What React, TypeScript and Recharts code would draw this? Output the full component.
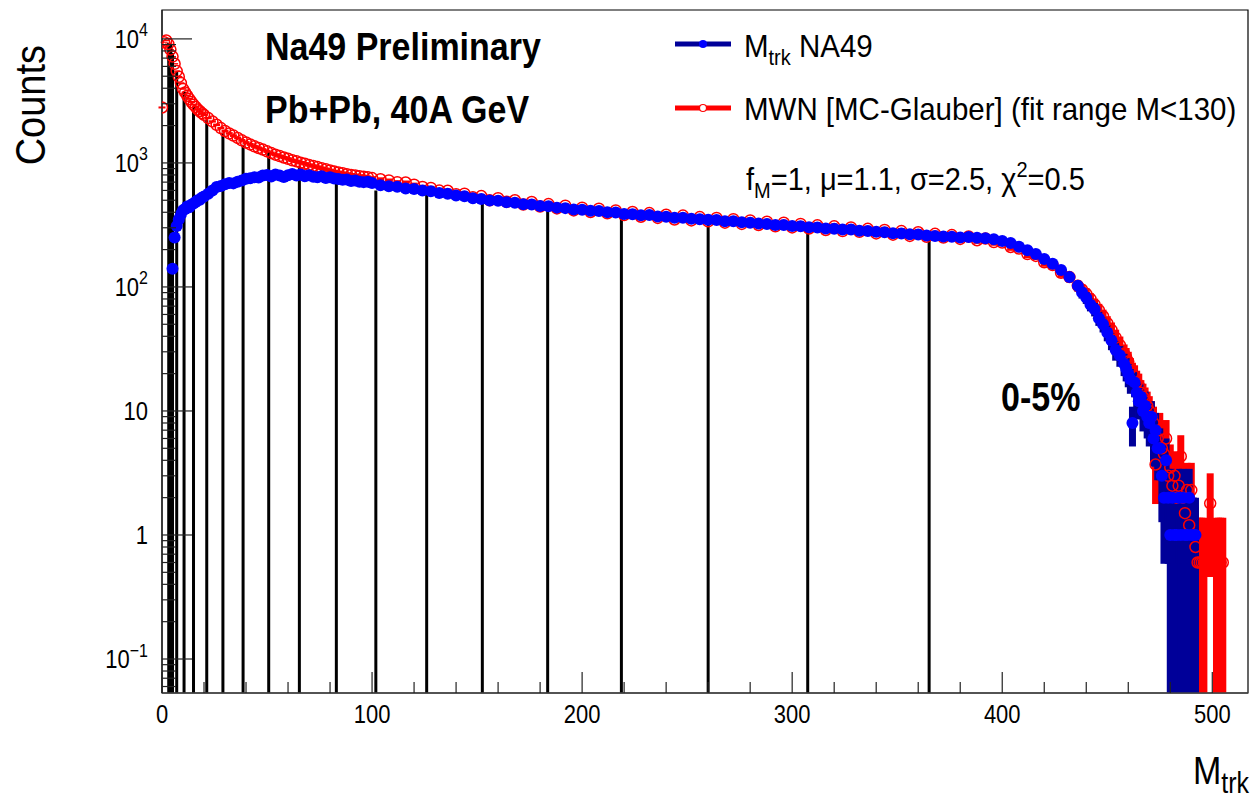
import React from 'react';
import { ComposedChart, Scatter, ErrorBar, XAxis, YAxis, ReferenceLine, ReferenceArea } from 'recharts';

const FONT = '"Liberation Sans", Arial, Helvetica, sans-serif';

// multiplicity bins (denser in the steep parts)
const mtrk = [
  0, 1, 2, 3, 4, 5, 6, 7, 8, 9, 10, 11, 12, 13, 14, 15, 16, 17, 18, 19, 20,
  22, 24, 26, 28, 30, 32, 34, 36, 38, 40, 42, 44, 46, 48, 50, 52, 54, 56, 58, 60,
  62, 64, 66, 68, 70, 72, 74, 76, 78, 80, 82, 84, 86, 88, 90, 92, 94, 96, 98, 100,
  104, 108, 112, 116, 120, 124, 128, 132, 136, 140, 144, 148, 152, 156, 160, 164, 168, 172, 176, 180,
  184, 188, 192, 196, 200, 204, 208, 212, 216, 220, 224, 228, 232, 236, 240, 244, 248, 252, 256, 260,
  264, 268, 272, 276, 280, 284, 288, 292, 296, 300, 304, 308, 312, 316, 320, 324, 328, 332, 336, 340,
  344, 348, 352, 356, 360, 364, 368, 372, 376, 380, 384, 388, 392, 396, 400, 404, 408, 412, 416, 420,
  424, 428, 432, 436,
  438, 440, 442, 444, 446, 448, 450, 452, 454, 456, 458,
  459, 460, 461, 462, 463, 464, 465, 466, 467, 468, 469, 470, 471, 472, 473, 474, 475, 476, 477, 478,
  479, 480, 481, 482, 483, 484, 485, 486, 487, 488, 489, 490, 491, 492, 493, 494, 495, 496, 497, 498,
  499, 500, 501, 502, 503, 504, 505,
];

// M_trk NA49 (data)
const na49Counts = [
  null, null, null, null, null, 140, 250, 310, 350, 385, 415, 425, 445, 440, 460, 470, 485, 500, 505, 525, 535,
  565, 600, 640, 650, 672, 690, 684, 705, 722, 745, 752, 768, 762, 790, 800, 776, 805, 792, 770, 795,
  815, 790, 805, 780, 795, 772, 768, 780, 755, 768, 748, 742, 730, 735, 715, 720, 705, 700, 705, 688,
  660, 648, 642, 622, 615, 598, 590, 572, 565, 545, 538, 520, 512, 498, 495, 482, 478, 465, 462, 450,
  447, 436, 432, 422, 420, 412, 410, 400, 398, 388, 386, 378, 380, 370, 368, 362, 362, 354, 352, 348,
  346, 338, 338, 332, 330, 324, 322, 316, 316, 310, 308, 303, 302, 296, 295, 290, 290, 284, 283, 278,
  276, 271, 270, 266, 265, 260, 258, 255, 254, 250, 253, 249, 247, 242, 235, 226, 211, 198, 184, 168,
  154, 137, 120, 102,
  90, 82, 72, 66, 56, 50, 43, 37, 31, 28, 24,
  22, 20, 18, 8, 17, 14, 12, 13, 10, 11, 9, 8, 9, 6, 7, 5, 5, 3, 2, 4,
  2, 1, 2, 1, 1, 2, 1, 2, 1, 1, 2, 1, 1, 1, null, null, null, null, null, null,
  null, null, null, null, null, null, null,
];

// MWN [MC-Glauber] fit
const mwnFit = [
  2800, 9400, 9700, 9100, 8200, 7200, 6300, 5500, 4950, 4400, 3950, 3700, 3480, 3280, 3100, 2950, 2830, 2700, 2610, 2520, 2440,
  2300, 2160, 2030, 1910, 1810, 1730, 1660, 1590, 1520, 1460, 1410, 1360, 1320, 1280, 1240, 1200, 1165, 1135, 1105, 1080,
  1050, 1030, 1005, 985, 962, 945, 925, 905, 888, 870, 852, 838, 825, 812, 800, 792, 782, 775, 765, 755,
  738, 722, 700, 695, 668, 640, 628, 598, 596, 560, 565, 528, 540, 500, 520, 486, 500, 462, 484, 445,
  466, 430, 452, 414, 436, 402, 428, 392, 414, 380, 402, 368, 394, 360, 382, 350, 376, 344, 366, 338,
  360, 330, 352, 322, 344, 316, 336, 308, 330, 302, 322, 296, 314, 288, 308, 282, 302, 278, 294, 270,
  288, 264, 282, 258, 276, 254, 268, 250, 262, 244, 255, 238, 246, 230, 228, 210, 204, 184, 178, 158,
  150, 130, 120, 102,
  95, 88, 80, 72, 65, 58, 51, 45, 39, 34, 29,
  27, 25, 22, 20, 19, 17, 16, 14, 13, 12, 11, 10, 9, 8, 3.7, 6, 7, 5, 4.5, 6,
  3, 3.5, 2.5, 3, 2, 2.5, 4.3, 2, 1.5, 2.3, 1.2, 2.3, 1, 0.8, 0.6, 0.6, 0.6, 0.6, null, null,
  1.8, null, null, 0.6, 0.6, 0.6, 0.6,
];

// centrality class boundaries (black lines)
const boundaryM = [3.2, 4.2, 5, 7, 10.5, 15, 21.3, 29, 38.6, 50.8, 65.4, 83, 101.8, 126, 152.5, 183.6, 218.7, 260, 307.4, 365.2];
const boundaryTop = [9300, 9000, 7700, 5420, 3740, 2830, 2220, 1750, 1400, 1205, 946, 815, 600, 605, 513, 450, 403, 367, 300, 252];

const xTicks = [0, 20, 40, 60, 80, 100, 120, 140, 160, 180, 200, 220, 240, 260, 280, 300, 320, 340, 360, 380, 400, 420, 440, 460, 480, 500];
const yTicks = [
  0.06, 0.07, 0.08, 0.09, 0.1, 0.2, 0.3, 0.4, 0.5, 0.6, 0.7, 0.8, 0.9,
  1, 2, 3, 4, 5, 6, 7, 8, 9, 10, 20, 30, 40, 50, 60, 70, 80, 90,
  100, 200, 300, 400, 500, 600, 700, 800, 900, 1000, 2000, 3000, 4000, 5000, 6000, 7000, 8000, 9000, 10000,
];

const X_MAX = 517;
const Y_MIN = 0.0532;
const Y_MAX = 17100;

function toPoints(values: (number | null)[]) {
  const pts: { m: number; v: number; err: [number, number] }[] = [];
  values.forEach((v, i) => {
    if (v == null) return;
    const e = Math.sqrt(v);
    const lo = Math.max(v - e, Y_MIN);
    pts.push({ m: mtrk[i], v, err: [v - lo, e] });
  });
  return pts;
}

const bluePts = toPoints(na49Counts);
const redPts = toPoints(mwnFit);

const BlueDot = (p: any) => <circle cx={p.cx} cy={p.cy} r={6} fill="#0000ff" />;
const RedRing = (p: any) => (
  <circle cx={p.cx} cy={p.cy} r={5.5} fill="none" stroke="#ff0000" strokeWidth={1.5} />
);

// ROOT text looks a bit taller than Helvetica, so stretch vertically
const Txt = ({ x, y, sy = 1.15, children, ...rest }: any) => (
  <g transform={`translate(${x},${y}) scale(1,${sy})`}>
    <text x={0} y={0} fill="#000" fontFamily={FONT} style={{ whiteSpace: 'pre' }} {...rest}>
      {children}
    </text>
  </g>
);

const XTick = (props: any) => {
  const { x, y, payload } = props;
  const major = payload.value % 100 === 0;
  return (
    <g>
      <line x1={x} x2={x} y1={y} y2={y - (major ? 21 : 11)} stroke="#222" strokeWidth={1.2} />
      {major && (
        <Txt x={x} y={y + 30} textAnchor="middle" fontSize={22}>
          {payload.value}
        </Txt>
      )}
    </g>
  );
};

const YTick = (props: any) => {
  const { x, y, payload } = props;
  const lg = Math.log10(payload.value);
  const exp = Math.round(lg);
  const major = Math.abs(lg - exp) < 1e-6;
  let label: React.ReactNode = null;
  if (major) {
    if (exp === 0 || exp === 1) {
      label = exp === 0 ? '1' : '10';
    } else {
      label = (
        <>
          10
          <tspan dy={-10} fontSize={16}>
            {exp < 0 ? '\u2212' + Math.abs(exp) : exp}
          </tspan>
        </>
      );
    }
  }
  return (
    <g>
      <line x1={x} x2={x + (major ? 30 : 14)} y1={y} y2={y} stroke="#222" strokeWidth={1.2} />
      {major && (
        <Txt x={x - 14} y={y + 9} textAnchor="end" fontSize={22}>
          {label}
        </Txt>
      )}
    </g>
  );
};

export default function App() {
  return (
    <div style={{ position: 'absolute', left: 0, top: 0, width: 1257, height: 804, background: '#fff' }}>
      <ComposedChart width={1257} height={804} margin={{ top: 10, right: 9, bottom: 0, left: 0 }}>
        <XAxis
          type="number"
          dataKey="m"
          domain={[0, X_MAX]}
          allowDataOverflow
          ticks={xTicks}
          interval={0}
          height={111}
          tickSize={0}
          tickMargin={0}
          tickLine={false}
          axisLine={{ stroke: '#444', strokeWidth: 1.5 }}
          tick={<XTick />}
        />
        <YAxis
          type="number"
          dataKey="v"
          scale="log"
          domain={[Y_MIN, Y_MAX]}
          allowDataOverflow
          ticks={yTicks}
          interval={0}
          width={162}
          tickSize={0}
          tickMargin={0}
          tickLine={false}
          axisLine={{ stroke: '#222', strokeWidth: 1.2 }}
          tick={<YTick />}
        />
        <ReferenceArea x1={0} x2={X_MAX} y1={Y_MIN} y2={Y_MAX} fill="none" stroke="#000" strokeWidth={1.2} />
        <Scatter data={redPts} dataKey="v" shape={RedRing} isAnimationActive={false}>
          <ErrorBar dataKey="err" direction="y" width={0} stroke="#ff0000" strokeWidth={7} />
        </Scatter>
        <Scatter data={bluePts} dataKey="v" shape={BlueDot} isAnimationActive={false}>
          <ErrorBar dataKey="err" direction="y" width={0} stroke="#000099" strokeWidth={7} />
        </Scatter>
        {boundaryM.map((m, i) => (
          <ReferenceLine
            key={'b' + i}
            segment={[{ x: m, y: Y_MIN }, { x: m, y: boundaryTop[i] }]}
            stroke="#000"
            strokeWidth={3}
            ifOverflow="visible"
          />
        ))}
      </ComposedChart>

      <svg
        width={1257}
        height={804}
        style={{ position: 'absolute', left: 0, top: 0, pointerEvents: 'none' }}
        fontFamily={FONT}
      >
        <g transform="translate(45,45) rotate(-90) scale(1,1.12)">
          <text x={0} y={0} textAnchor="end" fontSize={38} fill="#000" fontFamily={FONT}>
            Counts
          </text>
        </g>
        <Txt x={1249} y={784} textAnchor="end" fontSize={34}>
          M
          <tspan fontSize={25} dy={8}>
            trk
          </tspan>
        </Txt>

        <Txt x={265} y={60} fontSize={34} fontWeight="bold">
          Na49 Preliminary
        </Txt>
        <Txt x={265} y={123} fontSize={34} fontWeight="bold">
          Pb+Pb, 40A GeV
        </Txt>
        <Txt x={1001} y={411} fontSize={34} fontWeight="bold" sy={1.2}>
          0-5%
        </Txt>

        {/* legend */}
        <line x1={675} x2={731} y1={44} y2={44} stroke="#000099" strokeWidth={5} />
        <circle cx={703} cy={44} r={4} fill="#0000ff" />
        <Txt x={744} y={57} fontSize={29.5} sy={1.06}>
          M
          <tspan fontSize={20} dy={8}>
            trk
          </tspan>
          <tspan dy={-8}> NA49</tspan>
        </Txt>
        <line x1={675} x2={731} y1={108} y2={108} stroke="#ff0000" strokeWidth={5} />
        <circle cx={703} cy={108} r={3.5} fill="#fff" stroke="#ff0000" strokeWidth={1.2} />
        <Txt x={744} y={120} fontSize={29.5} sy={1.06}>
          MWN [MC-Glauber] (fit range M&lt;130)
        </Txt>
        <Txt x={746} y={190} fontSize={29} sy={1.06}>
          f
          <tspan fontSize={20} dy={8}>
            M
          </tspan>
          <tspan dy={-8}>=1, μ=1.1, σ=2.5, χ</tspan>
          <tspan fontSize={20} dy={-12}>
            2
          </tspan>
          <tspan dy={12}>=0.5</tspan>
        </Txt>
      </svg>
    </div>
  );
}
